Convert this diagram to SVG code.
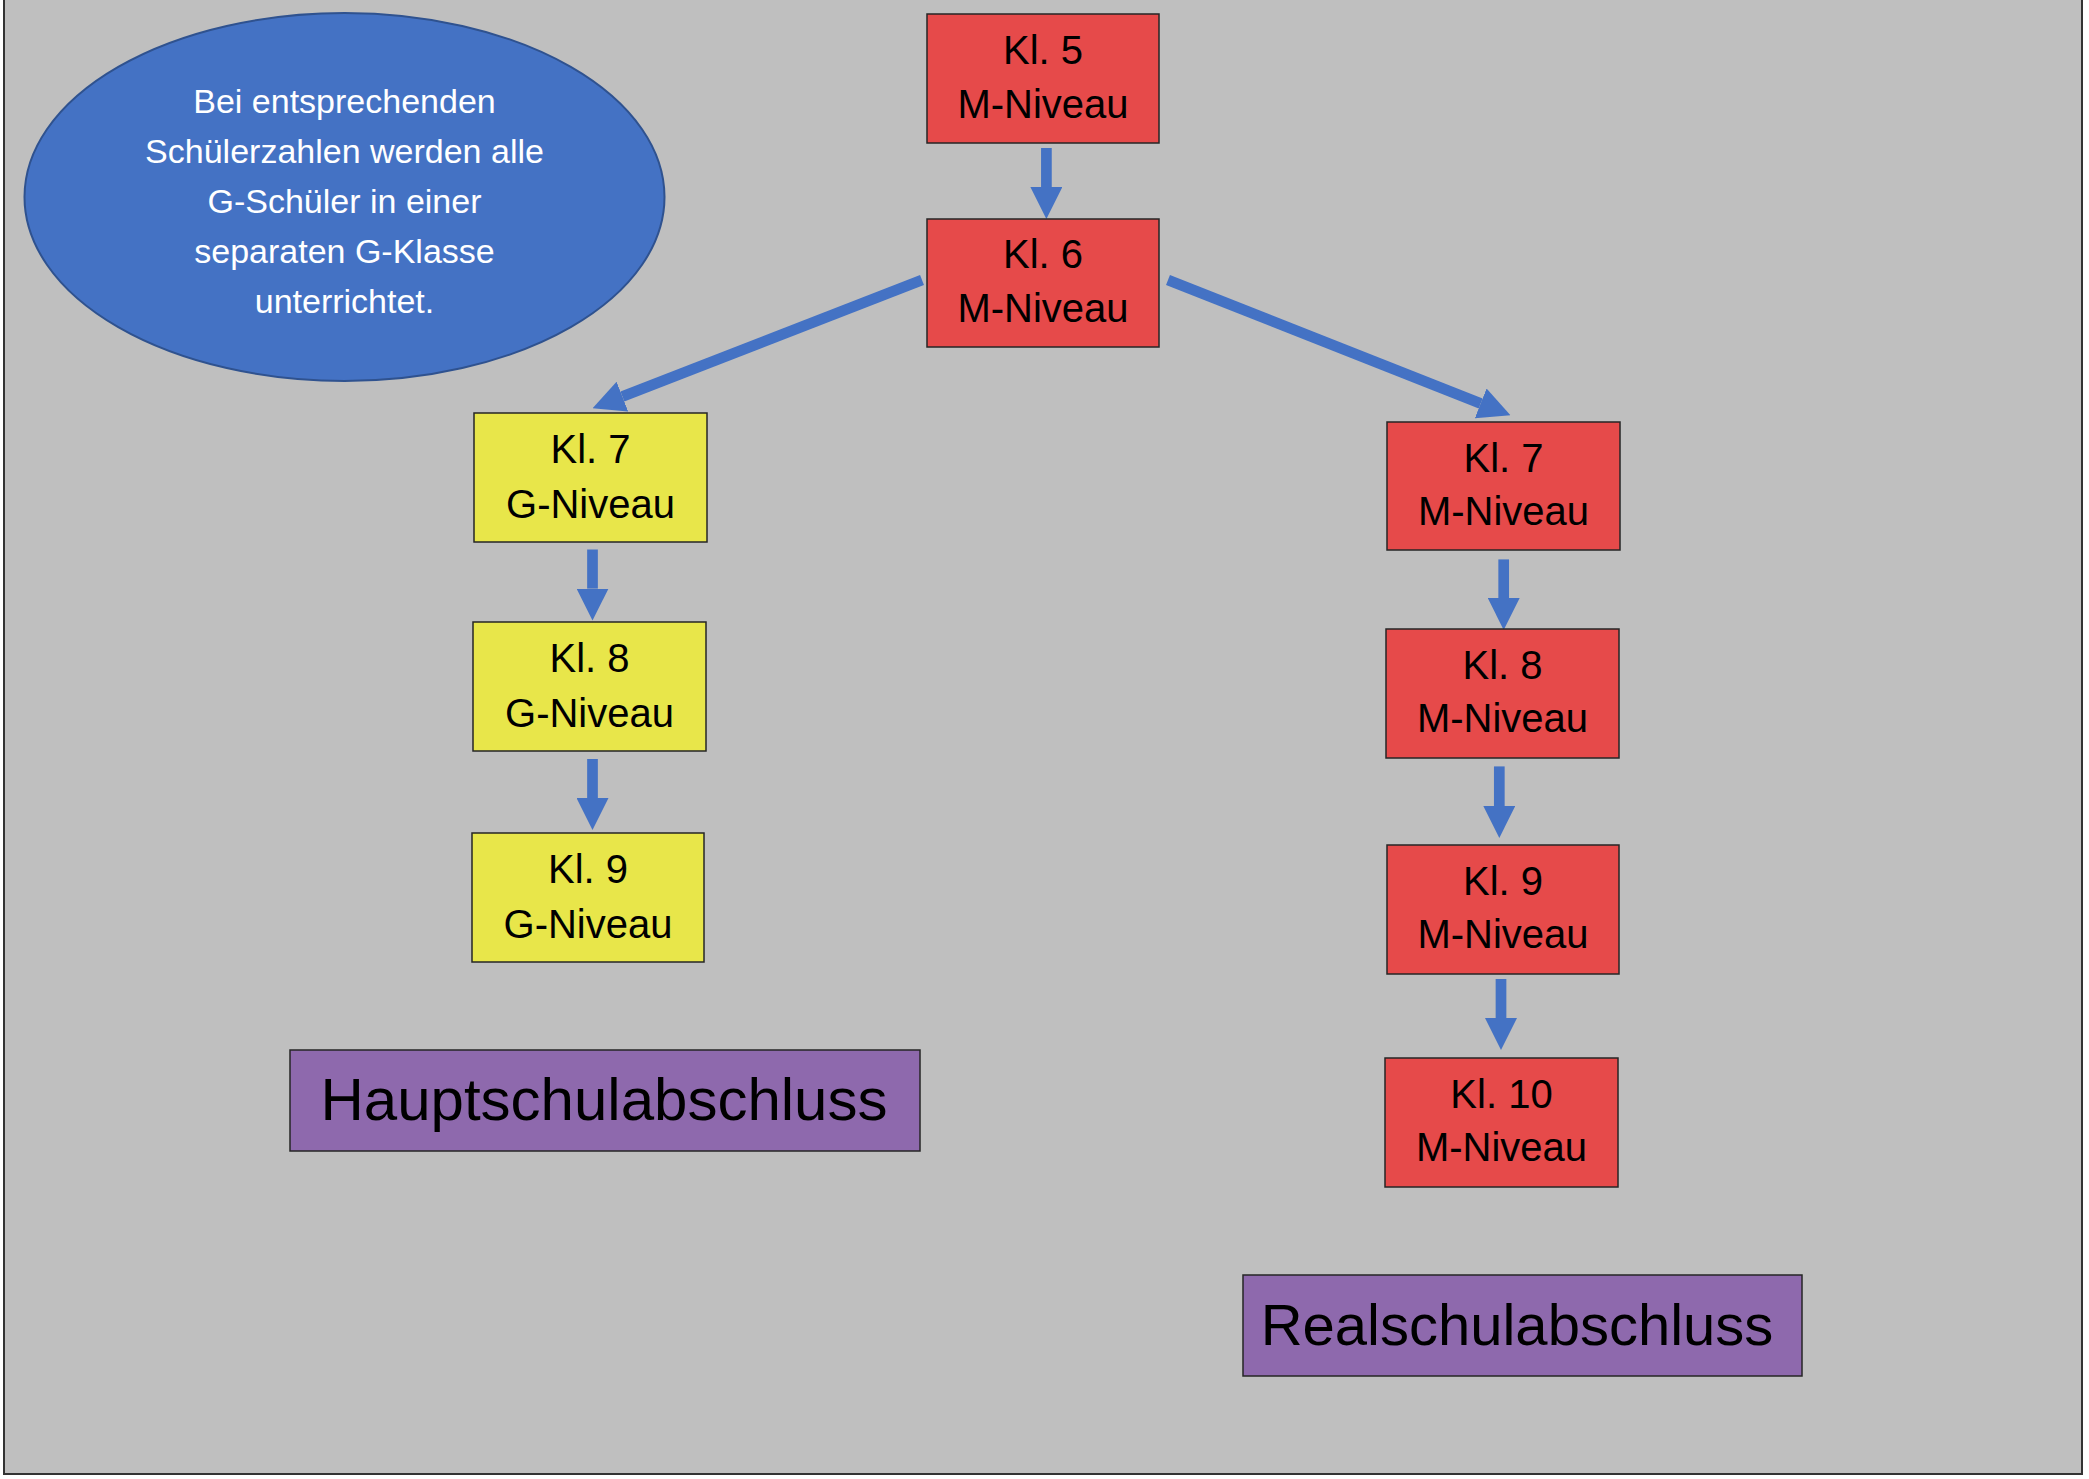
<svg xmlns="http://www.w3.org/2000/svg" width="2089" height="1479" viewBox="0 0 2089 1479">
  <defs>
    <style>
      .node { stroke: #262626; stroke-width: 1.5; }
      .red { fill: #e64a4a; }
      .yellow { fill: #e8e64a; }
      .purple { fill: #8e69ad; }
      .lbl { font-family: "Liberation Sans", Arial, sans-serif; font-size: 40px; fill: #000; text-anchor: middle; }
      .big { font-family: "Liberation Sans", Arial, sans-serif; font-size: 60px; fill: #000; text-anchor: middle; }
      .note { font-family: "Liberation Sans", Arial, sans-serif; font-size: 34px; fill: #ffffff; text-anchor: middle; }
      .conn { stroke: #4472c4; stroke-width: 10.7; fill: none; marker-end: url(#head); }
    </style>
    <marker id="head" markerUnits="userSpaceOnUse" markerWidth="32" markerHeight="32" refX="0" refY="16" orient="auto" viewBox="0 0 32 32">
      <path d="M0,0 L32,16 L0,32 Z" fill="#4472c4"/>
    </marker>
  </defs>

  <rect x="0" y="0" width="2089" height="1479" fill="#ffffff"/>
  <rect x="4" y="-3" width="2078" height="1477" fill="#bfbfbf" stroke="#333333" stroke-width="2"/>

  <g id="note">
    <ellipse cx="344.5" cy="197" rx="320" ry="184" fill="#4472c4" stroke="#2f528f" stroke-width="2"/>
    <text class="note" x="344.5" y="113">Bei entsprechenden</text>
    <text class="note" x="344.5" y="163">Schülerzahlen werden alle</text>
    <text class="note" x="344.5" y="213">G-Schüler in einer</text>
    <text class="note" x="344.5" y="263">separaten G-Klasse</text>
    <text class="note" x="344.5" y="313">unterrichtet.</text>
  </g>

  <g id="connectors">
    <line class="conn" x1="1046.4" y1="148" x2="1046.4" y2="187"/>
    <line class="conn" x1="922" y1="280" x2="622.4" y2="396.6"/>
    <line class="conn" x1="1168" y1="280" x2="1480.7" y2="403.4"/>
    <line class="conn" x1="592.5" y1="549.5" x2="592.5" y2="588.6"/>
    <line class="conn" x1="592.5" y1="759" x2="592.5" y2="798"/>
    <line class="conn" x1="1503.7" y1="559.4" x2="1503.7" y2="598"/>
    <line class="conn" x1="1499.3" y1="766.4" x2="1499.3" y2="806"/>
    <line class="conn" x1="1501" y1="979" x2="1501" y2="1018"/>
  </g>

  <g id="m5">
    <rect class="node red" x="927" y="14" width="232" height="129"/>
    <text class="lbl" x="1043" y="64">Kl. 5</text>
    <text class="lbl" x="1043" y="118">M-Niveau</text>
  </g>
  <g id="m6">
    <rect class="node red" x="927" y="219" width="232" height="128"/>
    <text class="lbl" x="1043" y="268">Kl. 6</text>
    <text class="lbl" x="1043" y="322">M-Niveau</text>
  </g>

  <g id="g7">
    <rect class="node yellow" x="474" y="413" width="233" height="129"/>
    <text class="lbl" x="590.5" y="463">Kl. 7</text>
    <text class="lbl" x="590.5" y="518">G-Niveau</text>
  </g>
  <g id="g8">
    <rect class="node yellow" x="473" y="622" width="233" height="129"/>
    <text class="lbl" x="589.5" y="672">Kl. 8</text>
    <text class="lbl" x="589.5" y="727">G-Niveau</text>
  </g>
  <g id="g9">
    <rect class="node yellow" x="472" y="833" width="232" height="129"/>
    <text class="lbl" x="588" y="883">Kl. 9</text>
    <text class="lbl" x="588" y="938">G-Niveau</text>
  </g>

  <g id="m7">
    <rect class="node red" x="1387" y="422" width="233" height="128"/>
    <text class="lbl" x="1503.5" y="472">Kl. 7</text>
    <text class="lbl" x="1503.5" y="525">M-Niveau</text>
  </g>
  <g id="m8">
    <rect class="node red" x="1386" y="629" width="233" height="129"/>
    <text class="lbl" x="1502.5" y="679">Kl. 8</text>
    <text class="lbl" x="1502.5" y="732">M-Niveau</text>
  </g>
  <g id="m9">
    <rect class="node red" x="1387" y="845" width="232" height="129"/>
    <text class="lbl" x="1503" y="895">Kl. 9</text>
    <text class="lbl" x="1503" y="948">M-Niveau</text>
  </g>
  <g id="m10">
    <rect class="node red" x="1385" y="1058" width="233" height="129"/>
    <text class="lbl" x="1501.5" y="1108">Kl. 10</text>
    <text class="lbl" x="1501.5" y="1161">M-Niveau</text>
  </g>

  <g id="hauptschul">
    <rect class="node purple" x="290" y="1050" width="630" height="101"/>
    <text class="big" x="604" y="1120">Hauptschulabschluss</text>
  </g>
  <g id="realschul">
    <rect class="node purple" x="1243" y="1275" width="559" height="101"/>
    <text class="big" x="1517" y="1345" style="font-size:58px">Realschulabschluss</text>
  </g>
</svg>
